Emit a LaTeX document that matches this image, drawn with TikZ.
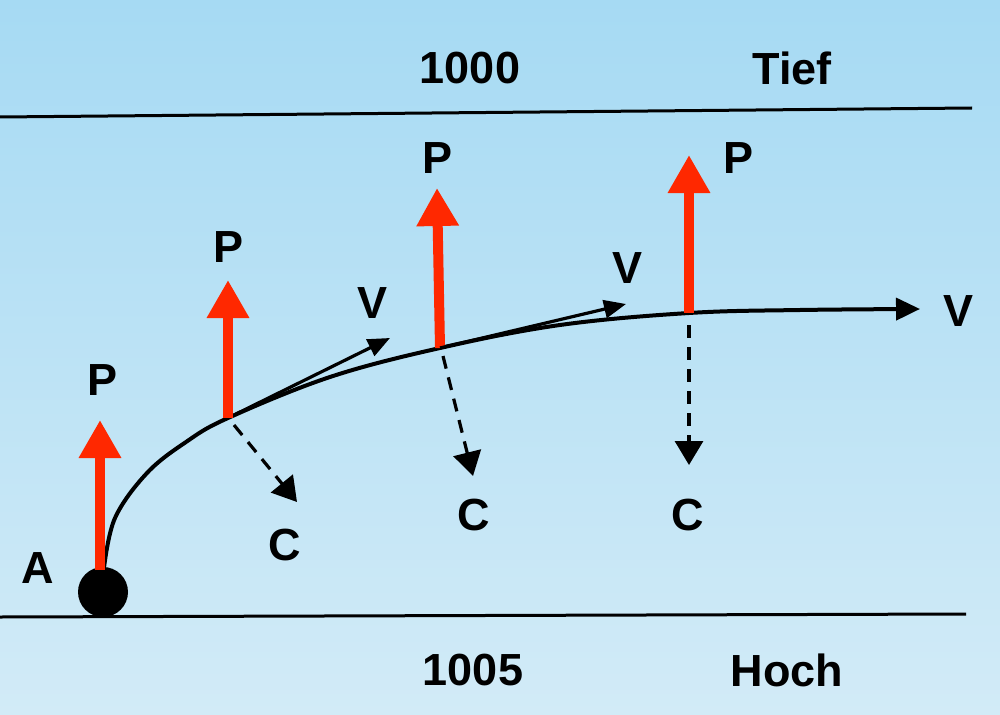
\documentclass[tikz,border=0pt]{standalone}
\usepackage{fontspec}
\setmainfont{Liberation Sans}
\usetikzlibrary{arrows.meta}
\definecolor{bgtop}{RGB}{166,218,243}
\definecolor{bgbot}{RGB}{210,235,247}
\definecolor{pred}{RGB}{255,40,0}
\begin{document}
\begin{tikzpicture}[x=1pt,y=-1pt,
 lbl/.style={font=\fontsize{45}{48}\selectfont\bfseries, inner sep=0pt},
 parrow/.style={pred, line width=10pt, -{Triangle[width=40pt,length=38pt]}},
 varrow/.style={black, line width=3.2pt, -{Triangle[width=18pt,length=22pt]}},
 carrow/.style={black, line width=3.2pt, dash pattern=on 13pt off 9pt, -{Triangle[width=28pt,length=24pt]}},
 sepline/.style={black, line width=3pt}]
\shade[top color=bgtop, bottom color=bgbot] (0,0) rectangle (1000,714);
\useasboundingbox (0,0) rectangle (1000,714);
% isobars
\coordinate (tl) at (0,117); \coordinate (tr) at (972,108);
\coordinate (bl) at (0,617); \coordinate (br) at (966,614);
\draw[sepline] (tl) -- (tr);
\draw[sepline] (bl) -- (br);
\node[lbl] (t1000) at (470,68) {1000};
\node[lbl] (tief) at (792,68) {Tief};
\node[lbl] (t1005) at (473,670) {1005};
\node[lbl] (hoch) at (787,670) {Hoch};
% points on trajectory
\coordinate (a) at (103,568);
\coordinate (p1) at (228,418);
\coordinate (p2) at (440,348);
\coordinate (p3) at (689,313);
\coordinate (vend) at (920,309);
% trajectory
\draw[varrow, line width=4pt, -{Triangle[width=22pt,length=24pt]}] plot[smooth, tension=0.6] coordinates {(104,568) (115,518) (147,473) (186,442) (228,418) (330,377) (440,348) (560,325) (689,313) (800,310) (920,309)};
% ball
\fill[black] (103,592) circle (25);
\node[lbl] (A) at (38,568) {A};
% pressure force arrows
\coordinate (pt0) at (100,420);
\coordinate (pt1) at (228,280);
\coordinate (pt2) at (437,188);
\coordinate (pt3) at (689,155);
\coordinate (a0) at (100,570);
\draw[parrow] (a0) -- (pt0);
\draw[parrow] (p1) -- (pt1);
\draw[parrow] (p2) -- (pt2);
\draw[parrow] (p3) -- (pt3);
\node[lbl] (P0) at (103,380) {P};
\node[lbl] (P1) at (229,247) {P};
\node[lbl] (P2) at (437,158) {P};
\node[lbl] (P3) at (738,158) {P};
% tangent velocity arrows
\coordinate (v1) at (390,338);
\coordinate (v2) at (626,304);
\coordinate (v1s) at (236,414);
\draw[varrow] (v1s) -- (v1);
\draw[varrow] (p2) -- (v2);
\node[lbl] (V1) at (373,303) {V};
\node[lbl] (V2) at (627,268) {V};
\node[lbl] (V3) at (958,311) {V};
% coriolis arrows
\coordinate (c1) at (297,502);
\coordinate (c2) at (473,476);
\coordinate (c3) at (689,465);
\coordinate (c1s) at (234,425);
\coordinate (c2s) at (443,356);
\coordinate (c3s) at (689,325);
\draw[carrow] (c1s) -- (c1);
\draw[carrow] (c2s) -- (c2);
\draw[carrow] (c3s) -- (c3);
\node[lbl] (C1) at (285,545) {C};
\node[lbl] (C2) at (474,515) {C};
\node[lbl] (C3) at (688,515) {C};
\end{tikzpicture}
\end{document}
